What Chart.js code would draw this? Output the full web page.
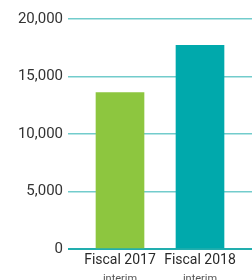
<!DOCTYPE html>
<html>
<head>
<meta charset="utf-8">
<script src="https://cdn.jsdelivr.net/npm/chart.js@4/dist/chart.umd.min.js"></script>
<style>
  html, body { margin: 0; padding: 0; background: #fff; }
  #wrap { width: 252px; height: 280px; }
</style>
</head>
<body>
<div id="wrap"><canvas id="c"></canvas></div>
<script>
// categories and values
const categories = ["Fiscal 2017", "Fiscal 2018"];
const subLabels = ["interim", "interim"];
const values = [13600, 17700];
const barColors = ["#8dc63f", "#00a9ac"];
const yTicks = [0, 5000, 10000, 15000, 20000];

const lineW = (v) => (v === 0 ? 2 : 1.5);
const lineC = (v) => (v === 0 ? "#22aeae" : "#72cccc");

// gridlines run on past the plot area up to the right edge
const extendGrid = {
  id: "extendGrid",
  beforeDatasetsDraw(chart) {
    const { ctx, chartArea, scales } = chart;
    ctx.save();
    yTicks.forEach((v) => {
      const w = lineW(v);
      const y = Math.round(scales.y.getPixelForValue(v) - w / 2) + w / 2;
      ctx.beginPath();
      ctx.lineWidth = w;
      ctx.strokeStyle = lineC(v);
      ctx.moveTo(chartArea.right, y);
      ctx.lineTo(chart.width, y);
      ctx.stroke();
    });
    ctx.restore();
  },
  afterDraw(chart) {
    // "interim" under each category label
    const { ctx, scales } = chart;
    ctx.save();
    ctx.font = "11px Roboto";
    ctx.fillStyle = "#555";
    ctx.textAlign = "center";
    ctx.textBaseline = "alphabetic";
    subLabels.forEach((s, i) => {
      ctx.fillText(s, scales.x.getPixelForValue(i), scales.x.top + 33);
    });
    ctx.restore();
  },
};

new Chart(document.getElementById("c"), {
  type: "bar",
  data: {
    labels: categories,
    datasets: [
      {
        data: values,
        backgroundColor: barColors,
        barThickness: 48,
      },
    ],
  },
  options: {
    responsive: true,
    maintainAspectRatio: false,
    animation: false,
    layout: { padding: { top: 19, right: 12, bottom: 0, left: 0 } },
    plugins: { legend: { display: false }, tooltip: { enabled: false } },
    scales: {
      x: {
        grid: { display: false, drawTicks: false },
        border: { display: false },
        ticks: {
          color: "#2a2a2a",
          font: { family: "Roboto", size: 14 },
          padding: 3,
          autoSkip: false,
          maxRotation: 0,
          minRotation: 0,
        },
        afterFit: (s) => { s.height = 31; },
      },
      y: {
        min: 0,
        max: 20000,
        afterBuildTicks: (s) => { s.ticks = yTicks.map((v) => ({ value: v })); },
        afterFit: (s) => { s.width = 80; },
        border: { display: false },
        grid: {
          color: (c) => lineC(c.tick ? c.tick.value : 1),
          lineWidth: (c) => lineW(c.tick ? c.tick.value : 1),
          tickLength: 12,
        },
        ticks: {
          color: "#333",
          font: { family: "Roboto", size: 15 },
          padding: 5,
          callback: (v) => v.toLocaleString("en-US"),
        },
      },
    },
  },
  plugins: [extendGrid],
});
</script>
</body>
</html>
